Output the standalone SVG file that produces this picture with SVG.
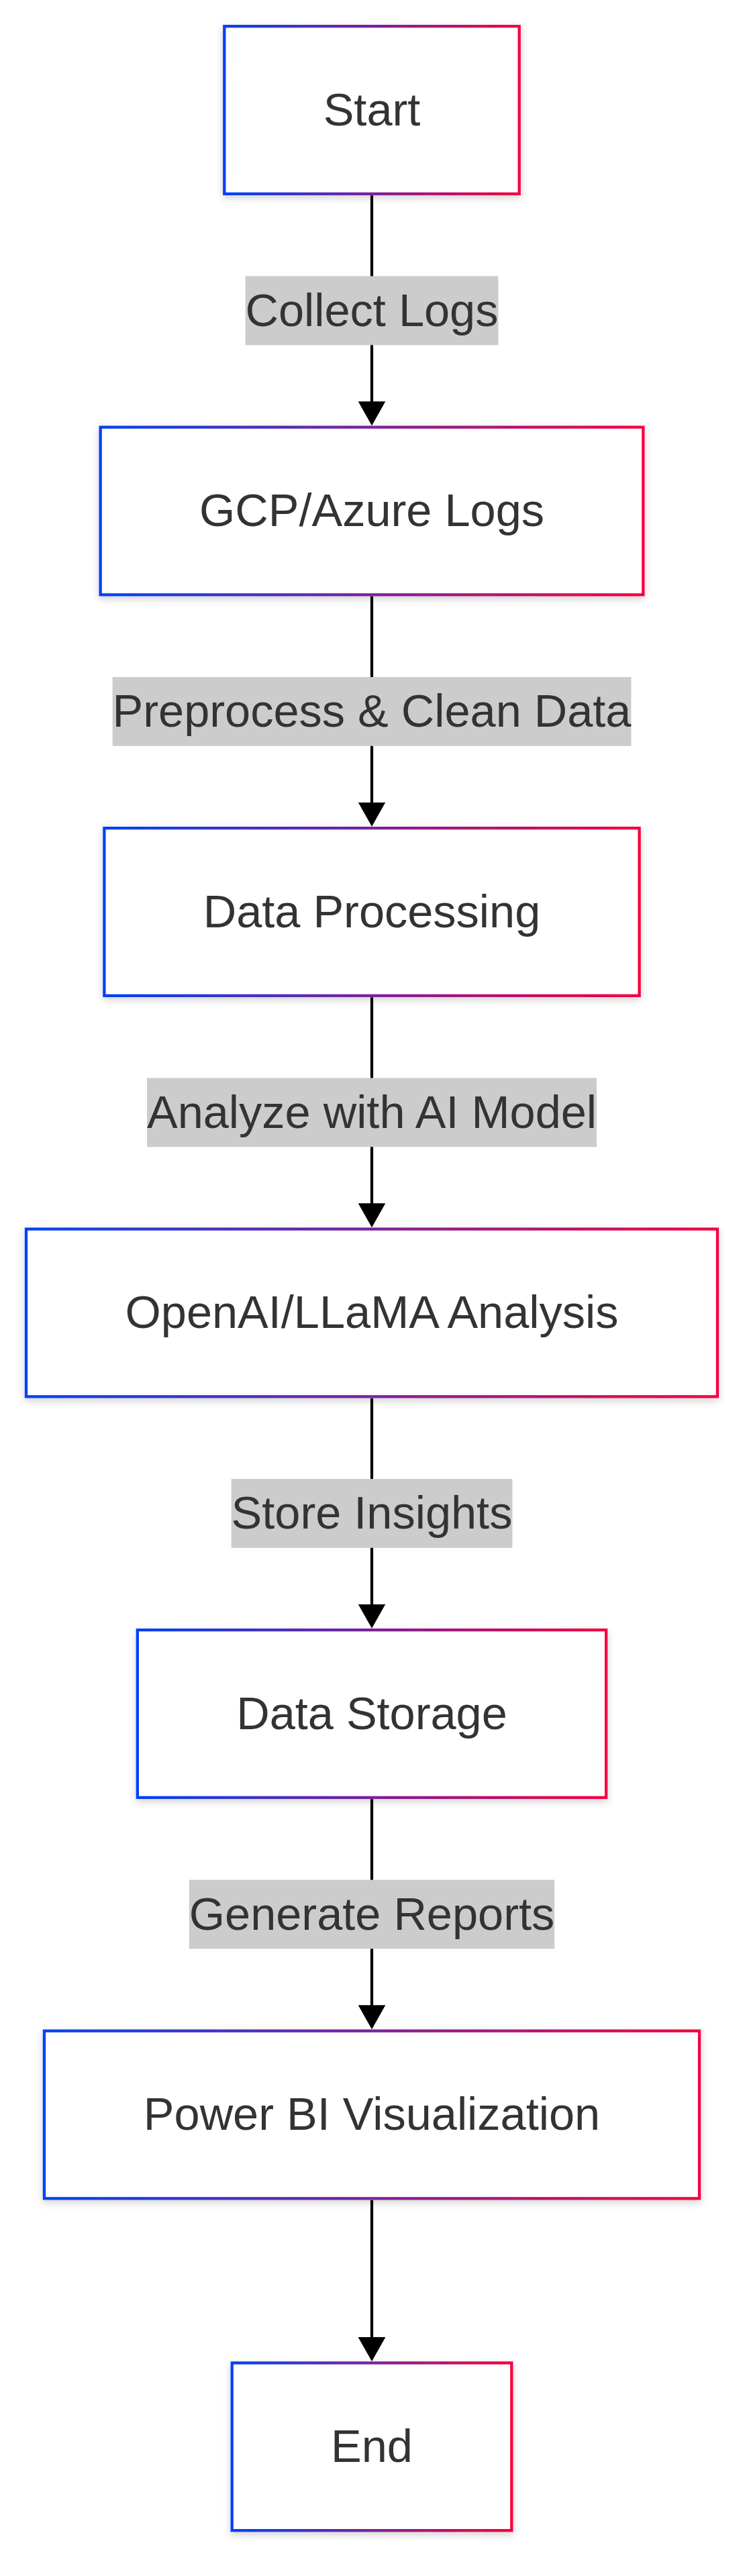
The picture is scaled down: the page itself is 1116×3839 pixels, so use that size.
<svg xmlns="http://www.w3.org/2000/svg" width="1116" height="3839" viewBox="0 0 1116 3839">
<defs>
<linearGradient id="grad" x1="0" y1="0" x2="1" y2="0" gradientUnits="objectBoundingBox">
<stop offset="0" stop-color="#0042f5"/>
<stop offset="1" stop-color="#f5003f"/>
</linearGradient>
<filter id="shadow" x="-10%" y="-20%" width="120%" height="150%">
<feDropShadow dx="0" dy="4" stdDeviation="6" flood-color="#000000" flood-opacity="0.18"/>
</filter>
<marker id="arrow" viewBox="0 0 36 40.6" refX="26" refY="20.3" markerWidth="36" markerHeight="40.6" markerUnits="userSpaceOnUse" orient="auto">
<path d="M0,0 L36,20.3 L0,40.6 Z" fill="#000000"/>
</marker>
</defs>
<style>
.node rect{fill:#ffffff;stroke:url(#grad);stroke-width:4.3;filter:url(#shadow)}
.node text,.elabel text{font-family:"Liberation Sans",Arial,Helvetica,sans-serif;font-size:68.5px;fill:#333333;text-anchor:middle}
.elabel rect{fill:#cccccc}
.edge{stroke:#000000;stroke-width:4.2;fill:none}
</style>
<rect x="0" y="0" width="1116" height="3839" fill="#ffffff"/>
<g id="connectors">
<path class="edge" d="M554,291.2 L554,624.3" marker-end="url(#arrow)"/>
<path class="edge" d="M554,888.7 L554,1221.8" marker-end="url(#arrow)"/>
<path class="edge" d="M554,1486.2 L554,1819.3" marker-end="url(#arrow)"/>
<path class="edge" d="M554,2083.7 L554,2416.8" marker-end="url(#arrow)"/>
<path class="edge" d="M554,2681.2 L554,3014.3" marker-end="url(#arrow)"/>
<path class="edge" d="M554,3278.7 L554,3509.1" marker-end="url(#arrow)"/>
<g class="elabel" id="label-collect">
<rect x="365.55" y="411.5" width="376.9" height="102.8"/>
<text x="554" y="485.9">Collect Logs</text>
</g>
<g class="elabel" id="label-preprocess">
<rect x="167.6" y="1009" width="772.8" height="102.8"/>
<text x="554" y="1083.4">Preprocess &amp; Clean Data</text>
</g>
<g class="elabel" id="label-analyze">
<rect x="219" y="1606.5" width="670" height="102.8"/>
<text x="554" y="1680.9">Analyze with AI Model</text>
</g>
<g class="elabel" id="label-store">
<rect x="344.6" y="2204" width="418.8" height="102.8"/>
<text x="554" y="2278.4">Store Insights</text>
</g>
<g class="elabel" id="label-generate">
<rect x="281.8" y="2801.5" width="544.4" height="102.8"/>
<text x="554" y="2875.9">Generate Reports</text>
</g>
</g>
<g class="node" id="start">
<rect x="334.3" y="39.15" width="439.4" height="249.7"/>
<text x="554" y="186.8">Start</text>
</g>
<g class="node" id="gcp-azure-logs">
<rect x="149.65" y="636.65" width="808.7" height="249.7"/>
<text x="554" y="784.3">GCP/Azure Logs</text>
</g>
<g class="node" id="data-processing">
<rect x="155.4" y="1234.15" width="797.2" height="249.7"/>
<text x="554" y="1381.8">Data Processing</text>
</g>
<g class="node" id="ai-analysis">
<rect x="39" y="1831.65" width="1030" height="249.7"/>
<text x="554" y="1979.3">OpenAI/LLaMA Analysis</text>
</g>
<g class="node" id="data-storage">
<rect x="204.85" y="2429.15" width="698.3" height="249.7"/>
<text x="554" y="2576.8">Data Storage</text>
</g>
<g class="node" id="power-bi">
<rect x="65.95" y="3026.65" width="976.1" height="249.7"/>
<text x="554" y="3174.3">Power BI Visualization</text>
</g>
<g class="node" id="end">
<rect x="345.7" y="3521.45" width="416.6" height="249.7"/>
<text x="554" y="3669.1">End</text>
</g>
</svg>
